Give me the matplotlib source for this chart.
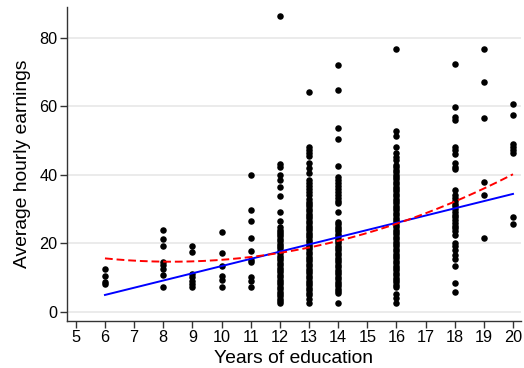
import numpy as np
import matplotlib
matplotlib.use("Agg")
import matplotlib.pyplot as plt

plt.rcParams["font.family"] = ["Liberation Sans", "DejaVu Sans"]

# hourly wages, grouped by years of education
wages_6 = [12.6, 10.3, 8.8, 8.1]
wages_8 = [23.9, 21.2, 19.3, 14.6, 13.6, 12.6, 10.7, 7.2]
wages_9 = [19.3, 17.5, 11.1, 10.1, 9.1, 8.2, 7.2]
wages_10 = [23.4, 17.3, 13.4, 10.3, 9.3, 7.2]
wages_11 = [39.9, 29.6, 26.5, 21.6, 17.7, 15.2, 14.4, 10.1, 9.1, 7.2]
wages_12 = [86.6, 43.2, 42.2, 40.0, 38.5, 36.6, 33.8, 29.2, 26.5,
            24.7, 24.0, 23.4, 22.7, 22.0, 21.3, 20.6, 19.9, 19.2, 18.5,
            17.8, 17.1, 16.4, 15.7, 15.0, 14.3, 13.6, 12.9, 12.2, 11.5,
            10.8, 10.1, 9.4, 8.7, 8.0, 7.3, 6.6, 5.9, 5.2, 4.5, 3.8, 3.1, 2.6]
wages_13 = [64.1, 48.3, 47.4, 46.4, 45.4, 43.4, 41.9, 40.5, 38.5, 37.6,
            36.7, 35.8, 34.9, 34.0, 33.1, 32.2, 31.5, 30.8, 30.1, 29.4,
            28.7, 28.0, 27.3, 26.6, 25.9, 25.2, 24.5, 23.8, 23.1, 22.4,
            21.7, 21.0, 20.3, 19.6, 18.9, 18.2, 17.5, 16.8, 16.1, 15.4,
            14.7, 14.0, 13.3, 12.6, 11.9, 11.2, 10.5, 9.8, 9.1, 8.4, 7.7,
            7.0, 6.3, 5.6, 4.9, 3.6, 2.5]
wages_14 = [72.0, 64.8, 53.8, 50.4, 42.7, 39.5, 38.6, 37.7, 36.8, 35.9,
            35.0, 34.1, 33.2, 32.5, 31.7, 29.2, 26.3, 25.6, 24.9, 24.2,
            23.5, 22.8, 22.1, 21.4, 20.7, 20.0, 19.3, 18.6, 17.9, 17.2,
            16.5, 15.8, 15.1, 14.4, 13.7, 13.0, 12.3, 11.6, 10.9, 10.2,
            9.5, 8.8, 8.1, 7.4, 6.7, 6.0, 5.4, 2.6]
wages_16 = [76.8, 52.9, 51.4, 48.1, 46.3, 45.3, 44.3, 42.9, 42.2, 41.5,
            40.8, 40.1, 39.4, 38.7, 38.0, 37.3, 36.6, 35.9, 35.2, 34.5,
            33.8, 33.1, 32.4, 31.7, 31.0, 30.3, 29.6, 28.9, 28.2, 27.5,
            26.8, 26.1, 25.4, 24.7, 24.0, 23.3, 22.6, 21.9, 21.2, 20.5,
            19.8, 19.1, 18.4, 17.7, 17.0, 16.3, 15.6, 14.9, 14.2, 13.5,
            12.8, 12.1, 11.4, 10.7, 10.0, 9.3, 8.6, 7.9, 7.3, 5.1, 3.9, 2.6]
wages_18 = [72.5, 59.9, 57.0, 56.0, 48.2, 47.3, 46.1, 43.4, 42.4, 41.6,
            35.6, 34.1, 33.2, 32.4, 31.6, 30.8, 30.0, 29.2, 28.4, 27.6,
            26.8, 26.0, 25.2, 24.4, 23.6, 22.4, 20.0, 19.1, 18.1, 16.6,
            15.3, 13.4, 8.3, 5.9]
wages_19 = [76.8, 67.3, 56.6, 37.9, 34.2, 21.6]
wages_20 = [60.6, 57.6, 49.1, 48.3, 47.3, 46.5, 27.8, 25.5]

years = [6, 8, 9, 10, 11, 12, 13, 14, 16, 18, 19, 20]
wage_groups = [wages_6, wages_8, wages_9, wages_10, wages_11, wages_12,
               wages_13, wages_14, wages_16, wages_18, wages_19, wages_20]

# fitted lines (polynomial coefficients)
linear_fit = [2.11, -7.76]
quad_fit = [0.1863, -3.087, 27.41]

educ = []
wage = []
for yr, group in zip(years, wage_groups):
    educ += [yr] * len(group)
    wage += group

fig = plt.figure(figsize=(5.24, 3.68), dpi=100)
ax = fig.add_axes([0.128, 0.1285, 0.866, 0.8535])

ax.scatter(educ, wage, s=22, color="black", zorder=3, linewidths=0)

xs = np.linspace(min(years), max(years), 200)
ax.plot(xs, np.polyval(linear_fit, xs), color="blue", lw=1.4, zorder=4)
ax.plot(xs, np.polyval(quad_fit, xs), color="red", lw=1.4, ls=(0, (4, 2)), zorder=5)

ax.set_xlim(4.7, 20.27)
ax.set_ylim(-2.63, 89.2)
ax.set_xticks(range(5, 21))
ax.set_yticks([0, 20, 40, 60, 80])
ax.yaxis.grid(True, color="#e8e8e8", lw=1.2)
ax.set_axisbelow(True)

for side in ["top", "right"]:
    ax.spines[side].set_visible(False)
for side in ["left", "bottom"]:
    ax.spines[side].set_color("#333333")
    ax.spines[side].set_linewidth(1.0)
ax.tick_params(direction="out", length=5, width=1.0, color="#333333",
               labelsize=11.7, pad=2)

ax.set_xlabel("Years of education", fontsize=13.9, labelpad=3)
ax.set_ylabel("Average hourly earnings", fontsize=13.9, labelpad=6)

fig.savefig("out.png", dpi=100)
